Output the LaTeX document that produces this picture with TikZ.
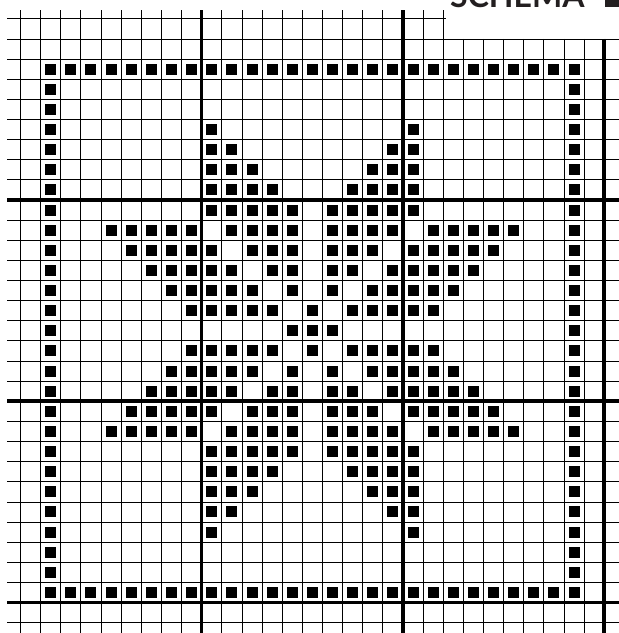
\documentclass[tikz,border=0pt]{standalone}
\usepackage{fontspec}
\newfontfamily\titlefont{Lato}
\definecolor{titlegray}{HTML}{231F20}
\tikzset{
  gridline/.style={draw=black, line width=0.8pt},
  thickline/.style={draw=black, line width=3.6pt},
  cellsq/.style={fill=black},
}
\newcommand\ox{20.5}
\newcommand\oy{18.8}
\newcommand\cw{20.13}
\newcommand\sqat[2]{\fill[cellsq] ({\ox+\cw*(#1)+4.57},{\oy+\cw*(#2)+4.57}) rectangle ++(11,11);}
\begin{document}
\begin{tikzpicture}[x=1pt,y=-1pt]
\useasboundingbox (0,0) rectangle (619,633);
\clip (0,0) rectangle (619,633);
% thin vertical grid lines
\foreach \k in {0,...,21} \draw[gridline] ({\ox+\cw*\k},10) -- ({\ox+\cw*\k},633);
\foreach \k in {22,...,30} \draw[gridline] ({\ox+\cw*\k},{\oy+\cw}) -- ({\ox+\cw*\k},633);
% thin horizontal grid lines
\draw[gridline] (7,\oy) -- (446,\oy);
\foreach \k in {1,...,30} \draw[gridline] (7,{\oy+\cw*\k}) -- (619,{\oy+\cw*\k});
% thick lines
\foreach \k in {9,19} \draw[thickline] ({\ox+\cw*\k},10) -- ({\ox+\cw*\k},633);
\draw[thickline] ({\ox+\cw*29},{\oy+\cw}) -- ({\ox+\cw*29},633);
\foreach \k in {9,19,29} \draw[thickline] (7,{\oy+\cw*\k}) -- (619,{\oy+\cw*\k});
% border squares
\foreach \c in {1,...,27} {\sqat{\c}{2} \sqat{\c}{28}}
\foreach \r in {3,...,27} {\sqat{1}{\r} \sqat{27}{\r}}
% motif, top half mirrored to bottom half
\foreach \r/\cs in {
  5/{9,19},
  6/{9,10,18,19},
  7/{9,10,11,17,18,19},
  8/{9,10,11,12,16,17,18,19},
  9/{9,10,11,12,13,15,16,17,18,19},
  10/{4,5,6,7,8,10,11,12,13,15,16,17,18,20,21,22,23,24},
  11/{5,6,7,8,9,11,12,13,15,16,17,19,20,21,22,23},
  12/{6,7,8,9,10,12,13,15,16,18,19,20,21,22},
  13/{7,8,9,10,11,13,15,17,18,19,20,21},
  14/{8,9,10,11,12,14,16,17,18,19,20}} {
  \foreach \c in \cs {\sqat{\c}{\r} \sqat{\c}{30-\r}}
}
\foreach \c in {13,14,15} {\sqat{\c}{15}}
% title
\node[anchor=base west, inner sep=0pt, text=titlegray,
      font=\titlefont\bfseries\fontsize{32}{32}\selectfont] (title) at (450,7) {SCHEMA};
\fill[titlegray] (605,7) rectangle (626,-16);
\end{tikzpicture}
\end{document}
